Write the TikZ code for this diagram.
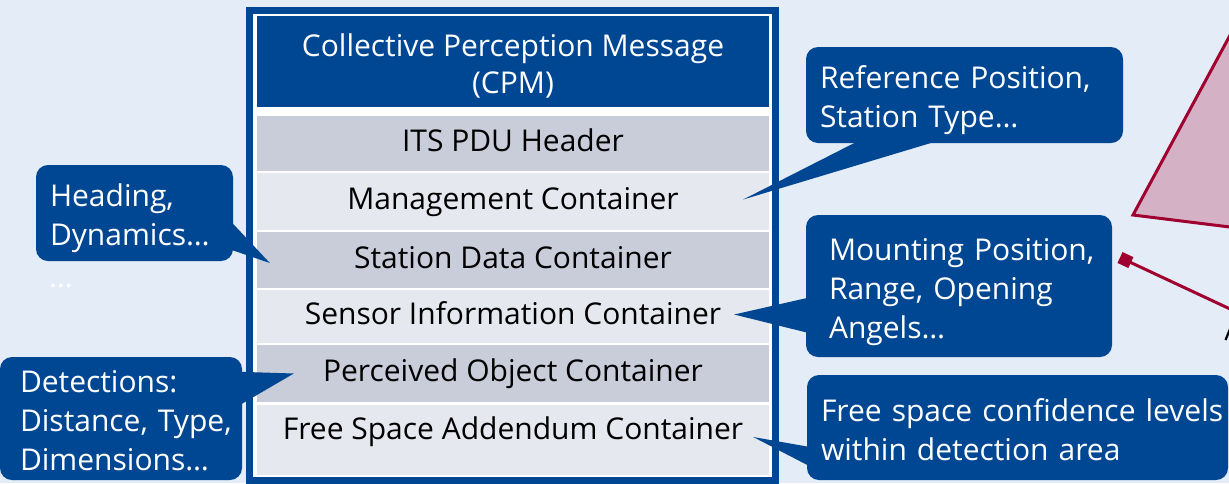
\documentclass[tikz,border=0pt]{standalone}
\usepackage{fontspec}
\setmainfont{Open Sans}
\usepackage{xcolor}
\usetikzlibrary{arrows.meta,calc}

\definecolor{cpmblue}{RGB}{0,71,147}
\definecolor{bgblue}{RGB}{228,236,247}
\definecolor{rowdark}{RGB}{201,205,218}
\definecolor{rowlight}{RGB}{230,232,239}
\definecolor{pinkfill}{RGB}{213,177,197}
\definecolor{sensred}{RGB}{160,0,48}
\newcommand\cpmsize{\fontsize{30}{39}\selectfont}

\begin{document}
\begin{tikzpicture}[x=1pt,y=-1pt,
  cpmcell/.style={minimum width=512,inner sep=0,font=\cpmsize},
  cpmrow/.style={cpmcell,text height=21,text depth=5},
  callout/.style={fill=cpmblue,text=white,rounded corners=12,align=left,inner ysep=0,font=\cpmsize,
    execute at begin node={\hyphenpenalty=10000\hbadness=10000\rule{0pt}{34pt}},
    execute at end node={\rule[-8pt]{0pt}{8pt}}},
  pointer/.style={fill=cpmblue}]
  \clip (0,0) rectangle (1229,483);
  \fill[bgblue] (0,0) rectangle (1229,483);

  % sensor cone and marker line
  \filldraw[fill=pinkfill,draw=sensred,line width=3] (1133,215) -- (1262,-24) -- (1262,231) -- cycle;
  \coordinate (mkr) at (1120,257.5);
  \coordinate (mkend) at (1275,330);
  \draw[sensred,line width=3,{Square[length=12,width=12]}-] (mkr) -- (mkend);
  \draw[line width=2.2] (1225.5,340) -- (1230,329);

  % message frame
  \fill[cpmblue] (246,7) rectangle (779,490);
  \fill[white] (253,14) rectangle (772,477);
  \node[cpmcell,fill=cpmblue,text=white,minimum height=91,align=center,
    font=\fontsize{30}{37}\selectfont] (hdr) at (513,61.5) {\rule{0pt}{31pt}Collective Perception Message\\(CPM)};
  \node[cpmrow,fill=rowdark,minimum height=55] (its) at (513,143.5) {ITS PDU Header};
  \node[cpmrow,fill=rowlight,minimum height=57] (mgmt) at (513,201.5) {Management Container};
  \node[cpmrow,fill=rowdark,minimum height=56] (stat) at (513,260) {Station Data Container};
  \node[cpmrow,fill=rowlight,minimum height=53] (sens) at (513,316.5) {Sensor Information Container};
  \node[cpmrow,fill=rowdark,minimum height=57] (perc) at (513,373.5) {Perceived Object Container};
  \node[cpmrow,fill=rowlight,minimum height=70,text depth=22] (fsac) at (513,440) {Free Space Addendum Container};

  % callouts
  \node[callout,minimum height=96,inner xsep=14,text width=289] (refpos) at (964.5,95)
    {Reference~Position,\\Station~Type\dots};
  \node[callout,minimum height=96,inner xsep=14,text width=169] (head) at (134.5,213)
    {Heading,\\Dynamics\dots};
  \node[callout,minimum height=142,inner xsep=23,text width=260] (mount) at (959,286)
    {Mounting~Position,\\Range,~Opening\\Angels\dots};
  \node[callout,minimum height=123,inner xsep=20,text width=202] (detect) at (121,418.5)
    {Detections:\\Distance,~Type,\\Dimensions\dots};
  \node[callout,minimum height=105,inner xsep=14,text width=393] (freesp) at (1017.5,427.5)
    {Free~space~confidence~levels\\within~detection~area};
  \node[text=white,font=\cpmsize,inner sep=0] (hdots) at (61,286) {\dots};

  \fill[pointer] ($(refpos.south west)+(52,-2)$) -- ($(refpos.south west)+(131,-2)$)
    -- ($(mgmt.east)+(-26,-2)$) -- cycle;
  \fill[pointer] ($(head.north east)+(-2,57)$) -- ($(head.north east)+(-2,85)$)
    -- ($(stat.west)+(13,3)$) -- cycle;
  \fill[pointer] ($(mount.north west)+(2,83)$) -- ($(mount.north west)+(2,118)$)
    -- ($(sens.east)+(-35,-2)$) -- cycle;
  \fill[pointer] ($(detect.north east)+(-2,15)$) -- ($(detect.north east)+(-2,48)$)
    -- ($(perc.west)+(37,0)$) -- cycle;
  \fill[pointer] ($(freesp.north west)+(2,72)$) -- ($(freesp.north west)+(2,91)$)
    -- ($(fsac.east)+(-16,-3)$) -- cycle;
\end{tikzpicture}
\end{document}
